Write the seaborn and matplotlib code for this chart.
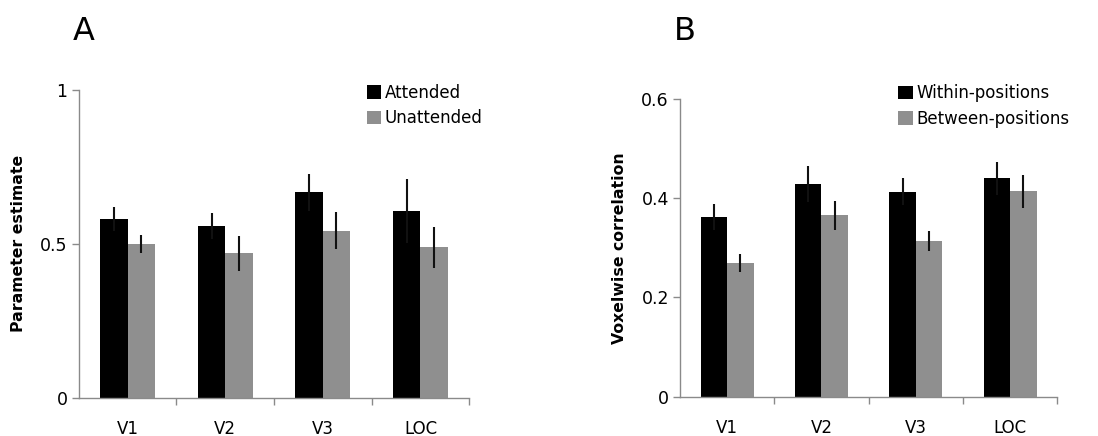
import matplotlib
matplotlib.use("Agg")
import matplotlib.pyplot as plt
import seaborn as sns
import pandas as pd
import numpy as np

# ---- data ----
regions = ["V1", "V2", "V3", "LOC"]

attended = [0.582, 0.559, 0.667, 0.606]
attended_err = [0.039, 0.042, 0.060, 0.104]
unattended = [0.500, 0.469, 0.543, 0.489]
unattended_err = [0.030, 0.056, 0.059, 0.067]

within_pos = [0.362, 0.429, 0.413, 0.440]
within_err = [0.026, 0.036, 0.027, 0.034]
between_pos = [0.270, 0.366, 0.313, 0.414]
between_err = [0.018, 0.029, 0.020, 0.033]

sns.set_style("white")
plt.rcParams["font.family"] = ["DejaVu Sans"]
plt.rcParams["text.color"] = "black"
plt.rcParams["axes.labelcolor"] = "black"
plt.rcParams["xtick.color"] = "black"
plt.rcParams["ytick.color"] = "black"

BLACK = "#000000"
GRAY = "#8f8f8f"
SPINE = "#8a8a8a"

fig = plt.figure(figsize=(10.98, 4.36), dpi=100)
axA = fig.add_axes([0.0717, 0.0878, 0.3557, 0.7058])
axB = fig.add_axes([0.6193, 0.0901, 0.3436, 0.6828])


def panel(ax, s1, e1, n1, s2, e2, n2, ylim, yticks, yticklabels, ylabel, letter,
          leg_x, leg_y, letter_y):
    df = pd.DataFrame({
        "region": regions * 2,
        "value": list(s1) + list(s2),
        "cond": [n1] * len(regions) + [n2] * len(regions),
    })
    sns.barplot(data=df, x="region", y="value", hue="cond", order=regions,
                hue_order=[n1, n2], palette=[BLACK, GRAY], width=0.56,
                errorbar=None, ax=ax, linewidth=0, saturation=1, legend=True)
    for cont, err in zip(ax.containers, [e1, e2]):
        xs = [p.get_x() + p.get_width() / 2 for p in cont.patches]
        hs = [p.get_height() for p in cont.patches]
        ax.errorbar(xs, hs, yerr=err, fmt="none", ecolor="#111111",
                    elinewidth=1.5, capsize=0, zorder=5)
    ax.set_xlim(-0.5, len(regions) - 0.5)
    ax.set_ylim(*ylim)
    ax.set_yticks(yticks)
    ax.set_yticklabels(yticklabels, fontsize=12.5)
    ax.set_xticks(range(len(regions)))
    ax.set_xticklabels(regions, fontsize=12)
    ax.set_xticks(np.arange(len(regions)) + 0.5, minor=True)
    ax.tick_params(axis="x", which="major", length=0, pad=16)
    ax.tick_params(axis="x", which="minor", length=5, width=1, color=SPINE,
                   direction="out", bottom=True)
    ax.tick_params(axis="y", which="major", length=5, width=1, color=SPINE,
                   direction="out", left=True, pad=3)
    ax.set_xlabel("")
    ax.set_ylabel(ylabel, fontsize=11.3, fontweight="bold", labelpad=10)
    for s in ["top", "right"]:
        ax.spines[s].set_visible(False)
    for s in ["left", "bottom"]:
        ax.spines[s].set_color(SPINE)
        ax.spines[s].set_linewidth(1)
    ax.legend(loc="upper left", bbox_to_anchor=(leg_x, leg_y), frameon=False,
              fontsize=12, handlelength=0.85, handleheight=0.85,
              handletextpad=0.25, labelspacing=0.45, borderpad=0,
              borderaxespad=0)
    ax.text(-0.015, letter_y, letter, transform=ax.transAxes, fontsize=23,
            ha="left", va="bottom")


panel(axA, attended, attended_err, "Attended", unattended, unattended_err,
      "Unattended", (0, 1), [0, 0.5, 1], ["0", "0.5", "1"],
      "Parameter estimate", "A", 0.737, 1.02, 1.14)
panel(axB, within_pos, within_err, "Within-positions", between_pos, between_err,
      "Between-positions", (0, 0.6), [0, 0.2, 0.4, 0.6],
      ["0", "0.2", "0.4", "0.6"], "Voxelwise correlation", "B", 0.579, 1.05, 1.175)

fig.savefig("out.png", dpi=100)
